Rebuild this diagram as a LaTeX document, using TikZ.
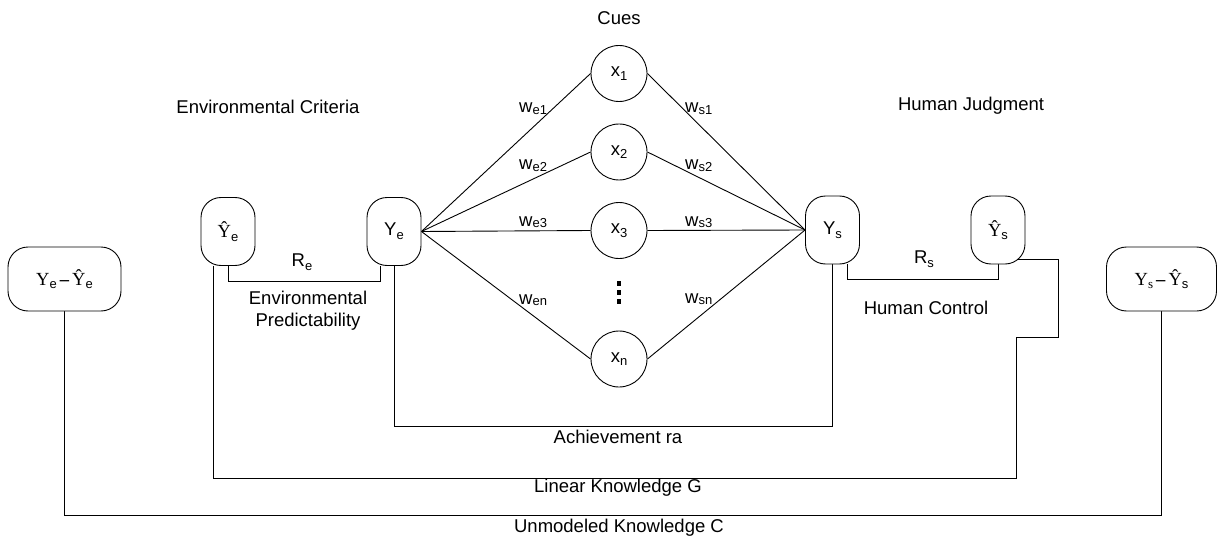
\documentclass[tikz,border=0pt]{standalone}
\usepackage{fontspec}
\setmainfont{Liberation Sans}
\newfontfamily\tnr{Liberation Serif}
\usetikzlibrary{backgrounds}
\newcommand\lsub[1]{\raisebox{-0.2em}{\fontsize{13}{14}\selectfont #1}}
\newcommand\wsub[1]{\raisebox{-0.1em}{\fontsize{13}{14}\selectfont #1}}
\newcommand\bdash{{\tnr\bfseries –}}
\tikzset{
  every picture/.style={x=1pt,y=-1pt},
  conn/.style={line width=0.9pt,black},
  ybox/.style={draw,line width=0.9pt,fill=white,rounded corners=20pt,minimum width=54pt,minimum height=68pt,inner sep=0pt},
  dbox/.style={draw,line width=0.9pt,fill=white,rounded corners=20pt,minimum height=64pt,inner sep=0pt},
  cue/.style={draw,circle,line width=0.9pt,fill=white,minimum size=56pt,inner sep=0pt},
  lbl/.style={inner sep=0pt,font=\fontsize{18.5}{22}\selectfont},
  wl/.style={inner sep=0pt,anchor=base west,font=\fontsize{18.5}{22}\selectfont}
}
\begin{document}
\begin{tikzpicture}[font=\fontsize{18.5}{22}\selectfont]
\useasboundingbox (0,0) rectangle (1217,540);
% nodes
\node[ybox] (yhe) at (228,231.5) {{\tnr Ŷ}\lsub{e}};
\node[ybox] (ye) at (394,231.5) {Y\lsub{e}};
\node[ybox] (ys) at (832.5,230) {Y\lsub{s}};
\node[ybox] (yhs) at (998,230) {{\tnr Ŷ}\lsub{s}};
\node[dbox,minimum width=113pt] (de) at (64.5,279) {{\tnr Y}\lsub{e}\,\bdash\,{\tnr Ŷ}\lsub{e}};
\node[dbox,minimum width=110pt] (ds) at (1161.5,279) {{\tnr Y\lsub{s}}\,\bdash\,{\tnr Ŷ}\lsub{s}};
\node[cue] (x1) at (619,73.5) {x\lsub{1}};
\node[cue] (x2) at (619,152) {x\lsub{2}};
\node[cue] (x3) at (619,230.5) {x\lsub{3}};
\node[cue] (xn) at (619,359) {x\lsub{n}};
% dots
\fill (616.7,281) rectangle ++(4.6,4.5);
\fill (616.7,290) rectangle ++(4.6,4.5);
\fill (616.7,299) rectangle ++(4.6,4.5);
% labels
\node[lbl] (cues) at (619,18) {Cues};
\node[lbl] (envc) at (268,107) {Environmental Criteria};
\node[lbl] (humj) at (971,106) {Human Judgment};
\node[lbl] (re) at (302,262) {R\lsub{e}};
\node[lbl] (rs) at (924,259) {R\lsub{s}};
\node[lbl,align=center] (envp) at (308,311) {Environmental\\Predictability};
\node[lbl] (humc) at (926,308) {Human Control};
\node[lbl] (ach) at (618,437) {Achievement ra};
\node[lbl] (lin) at (618,488) {Linear Knowledge G};
\node[lbl] (unm) at (619,528) {Unmodeled Knowledge C};
\node[wl] (we1) at (519,113) {w\wsub{e1}};
\node[wl] (we2) at (519,170) {w\wsub{e2}};
\node[wl] (we3) at (519,226) {w\wsub{e3}};
\node[wl] (wen) at (519,304) {w\wsub{en}};
\node[wl] (ws1) at (685,113) {w\wsub{s1}};
\node[wl] (ws2) at (685,170) {w\wsub{s2}};
\node[wl] (ws3) at (685,226) {w\wsub{s3}};
\node[wl] (wsn) at (685,303) {w\wsub{sn}};
% connectors
\begin{scope}[on background layer]
\foreach \c in {x1,x2,x3,xn}{
  \draw[conn] (ye.east) -- (\c.west);
  \draw[conn] (\c.east) -- (ys.west);
}
\draw[conn] (yhe.south) -- ++(0,15) -| ([xshift=-14pt]ye.south);
\draw[conn] ([xshift=15pt]ys.south) -- ++(0,15) -| (yhs.south);
\draw[conn] (ye.south) -- ++(0,160) -| (ys.south);
\draw[conn] ([xshift=-15pt]yhe.south) |- (1016,478) |- (1058,337) |- ([xshift=-10pt,yshift=5pt]yhs.south east);
\draw[conn] (de.south) -- ++(0,204) -| (ds.south);
\end{scope}
\end{tikzpicture}
\end{document}
